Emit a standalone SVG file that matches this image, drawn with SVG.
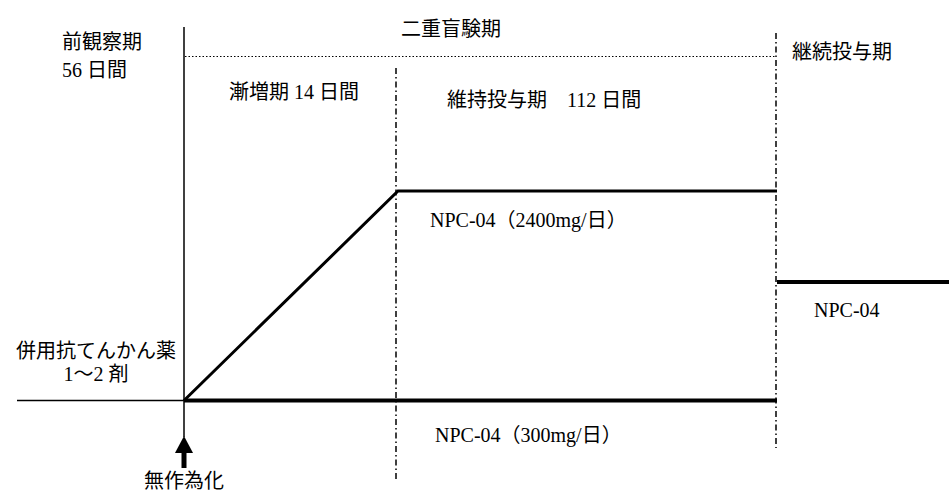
<svg xmlns="http://www.w3.org/2000/svg" width="949" height="493" viewBox="0 0 949 493">
<style>
text{font-family:"Liberation Serif","Noto Sans CJK JP",serif;font-size:20px;fill:#000}
.thin{stroke:#000;stroke-width:1.5;fill:none}
.thick{stroke:#000;stroke-width:4;fill:none}
.dot{stroke:#000;stroke-width:1.2;stroke-dasharray:1.5 2;fill:none}
.dashdot{stroke:#000;stroke-width:1.5;stroke-dasharray:6 3 1.5 3;fill:none}
</style>
<rect width="949" height="493" fill="#fff"/>
<g id="axes">
<line class="thin" x1="184" y1="27" x2="184" y2="437"/>
<line class="thin" x1="17" y1="400.5" x2="184" y2="400.5"/>
<line class="dot" x1="185" y1="56.5" x2="775" y2="56.5"/>
<line class="dashdot" x1="396" y1="68" x2="396" y2="482"/>
<line class="dashdot" x1="776" y1="33" x2="776" y2="448"/>
</g>
<g id="connectors">
<polyline class="thick" points="184,400.5 398,191 777,191" stroke-linejoin="miter" style="stroke-width:3"/>
<line class="thick" x1="184" y1="400.5" x2="777" y2="400.5"/>
<line class="thick" x1="777" y1="282" x2="949" y2="282"/>
<polygon points="184,436 175,453 193,453" fill="#000"/>
<rect x="181.5" y="452" width="5" height="16" fill="#000"/>
</g>
<g id="labels">
<text x="62" y="49">前観察期</text>
<text x="62" y="77">56 日間</text>
<text x="401" y="36">二重盲験期</text>
<text x="792" y="59">継続投与期</text>
<text x="229" y="99">漸増期 14 日間</text>
<text x="447" y="107">維持投与期　112 日間</text>
<text x="430" y="227">NPC-04（2400mg/日）</text>
<text x="814" y="317">NPC-04</text>
<text x="96" y="358" text-anchor="middle">併用抗てんかん薬</text>
<text x="96" y="381" text-anchor="middle">1〜2 剤</text>
<text x="435" y="442">NPC-04（300mg/日）</text>
<text x="184" y="488" text-anchor="middle">無作為化</text>
</g>
</svg>
